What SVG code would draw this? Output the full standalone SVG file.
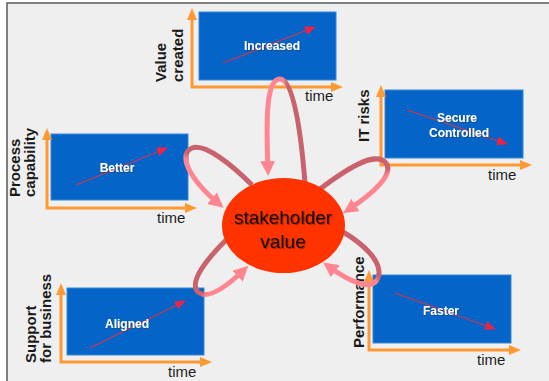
<svg xmlns="http://www.w3.org/2000/svg" width="549" height="381" viewBox="0 0 549 381">
  <style>
    .plot { fill: #0464c8; stroke: #3b88d6; stroke-width: 1; }
    .axis { fill: none; stroke: #ff9933; stroke-width: 3; stroke-linejoin: miter; marker-start: url(#axHead); marker-end: url(#axHead); }
    .trend { fill: none; stroke: #d2344e; stroke-width: 1.2; marker-end: url(#trendHead); }
    .inner { font-family: "Liberation Sans", Arial, sans-serif; font-weight: bold; font-size: 12px; fill: #ffffff; text-anchor: middle; filter: url(#softShadow); }
    .ylab { font-family: "Liberation Sans", Arial, sans-serif; font-weight: bold; font-size: 15px; fill: #1a1a1a; }
    .tlab { font-family: "Liberation Sans", Arial, sans-serif; font-size: 15px; fill: #1e1e1e; }
    .loop { fill: none; stroke-width: 5; stroke-linecap: butt; marker-end: url(#loopHead); }
    .core { font-family: "Liberation Sans", Arial, sans-serif; font-size: 19px; fill: #111111; text-anchor: middle; filter: url(#coreShadow); }
  </style>
  <defs>
    <marker id="axHead" markerUnits="userSpaceOnUse" markerWidth="12" markerHeight="10" viewBox="0 0 12 10" refX="6" refY="5" orient="auto-start-reverse">
      <path d="M0,0 L12,5 L0,10 z" fill="#ff9933"/>
    </marker>
    <marker id="trendHead" markerUnits="userSpaceOnUse" markerWidth="11" markerHeight="9" viewBox="0 0 11 9" refX="10" refY="4.5" orient="auto">
      <path d="M0,0 L11,4.5 L0,9 z" fill="#ee2244"/>
    </marker>
    <marker id="loopHead" markerUnits="userSpaceOnUse" markerWidth="15" markerHeight="15" viewBox="0 0 15 15" refX="9" refY="7.5" orient="auto">
      <path d="M0,0 L15,7.5 L0,15 z" fill="#ff8690"/>
    </marker>
    <filter id="softShadow" x="-10%" y="-20%" width="120%" height="150%">
      <feDropShadow dx="0.8" dy="0.8" stdDeviation="0.4" flood-color="#333333" flood-opacity="0.6"/>
    </filter>
    <filter id="coreShadow" x="-10%" y="-20%" width="120%" height="150%">
      <feDropShadow dx="1" dy="1" stdDeviation="0.5" flood-color="#6a1400" flood-opacity="0.6"/>
    </filter>
    <!-- each loop shades from deep rose (outgoing) to light pink (returning) -->
    <linearGradient id="g1" gradientUnits="userSpaceOnUse" x1="300" y1="0" x2="272" y2="0">
      <stop offset="0" stop-color="#c9626c"/><stop offset="0.45" stop-color="#c9626c"/><stop offset="0.6" stop-color="#ff8690"/><stop offset="1" stop-color="#ff8690"/>
    </linearGradient>
    <linearGradient id="g2" gradientUnits="userSpaceOnUse" x1="222" y1="156" x2="204" y2="186">
      <stop offset="0" stop-color="#c9626c"/><stop offset="0.45" stop-color="#c9626c"/><stop offset="0.6" stop-color="#ff8690"/><stop offset="1" stop-color="#ff8690"/>
    </linearGradient>
    <linearGradient id="g3" gradientUnits="userSpaceOnUse" x1="352" y1="165" x2="366" y2="200">
      <stop offset="0" stop-color="#c9626c"/><stop offset="0.45" stop-color="#c9626c"/><stop offset="0.6" stop-color="#ff8690"/><stop offset="1" stop-color="#ff8690"/>
    </linearGradient>
    <linearGradient id="g4" gradientUnits="userSpaceOnUse" x1="204" y1="262" x2="232" y2="280">
      <stop offset="0" stop-color="#c9626c"/><stop offset="0.45" stop-color="#c9626c"/><stop offset="0.6" stop-color="#ff8690"/><stop offset="1" stop-color="#ff8690"/>
    </linearGradient>
    <linearGradient id="g5" gradientUnits="userSpaceOnUse" x1="368" y1="248" x2="346" y2="274">
      <stop offset="0" stop-color="#c9626c"/><stop offset="0.45" stop-color="#c9626c"/><stop offset="0.6" stop-color="#ff8690"/><stop offset="1" stop-color="#ff8690"/>
    </linearGradient>
  </defs>

  <!-- page and frame -->
  <rect x="0" y="0" width="549" height="381" fill="#ffffff"/>
  <rect x="7" y="3" width="542" height="378" fill="#efefef"/>
  <path d="M7,381 L7,3 L549,3" fill="none" stroke="#5a5a5a" stroke-width="1.5"/>

  <!-- Value created -->
  <g id="value-created">
    <rect class="plot" x="199" y="12" width="137" height="68"/>
    <polyline class="axis" points="192,14 192,87 337,87"/>
    <line class="trend" x1="223" y1="63" x2="315" y2="27"/>
    <text class="inner" x="272" y="50">Increased</text>
    <text class="ylab" transform="translate(166,82) rotate(-90)">Value</text>
    <text class="ylab" transform="translate(183,82) rotate(-90)">created</text>
    <text class="tlab" x="305" y="101">time</text>
  </g>

  <!-- Process capability -->
  <g id="process-capability">
    <rect class="plot" x="51" y="134" width="137" height="66"/>
    <polyline class="axis" points="47,134 47,208 191,208"/>
    <line class="trend" x1="76" y1="185" x2="167" y2="148"/>
    <text class="inner" x="117" y="172">Better</text>
    <text class="ylab" transform="translate(20,197) rotate(-90)">Process</text>
    <text class="ylab" transform="translate(35,197) rotate(-90)">capability</text>
    <text class="tlab" x="157" y="223">time</text>
  </g>

  <!-- IT risks -->
  <g id="it-risks">
    <rect class="plot" x="385" y="90" width="138" height="68"/>
    <polyline class="axis" points="381,91 381,165 526,165"/>
    <line class="trend" x1="407" y1="110" x2="507" y2="144"/>
    <text class="inner" x="457" y="122">Secure</text>
    <text class="inner" x="459" y="137">Controlled</text>
    <text class="ylab" transform="translate(369,142) rotate(-90)">IT risks</text>
    <text class="tlab" x="488" y="180">time</text>
  </g>

  <!-- Support for business -->
  <g id="support-for-business">
    <rect class="plot" x="67" y="288" width="137" height="67"/>
    <polyline class="axis" points="61,289 61,362 206,362"/>
    <line class="trend" x1="90" y1="348" x2="185" y2="301"/>
    <text class="inner" x="127" y="328">Aligned</text>
    <text class="ylab" transform="translate(36,363) rotate(-90)">Support</text>
    <text class="ylab" transform="translate(51,363) rotate(-90)">for business</text>
    <text class="tlab" x="168" y="377">time</text>
  </g>

  <!-- Performance -->
  <g id="performance">
    <rect class="plot" x="373" y="275" width="138" height="68"/>
    <polyline class="axis" points="369,276 369,350 515,350"/>
    <line class="trend" x1="395" y1="293" x2="495" y2="329"/>
    <text class="inner" x="441" y="315">Faster</text>
    <text class="ylab" transform="translate(364,348) rotate(-90)">Performance</text>
    <text class="tlab" x="477" y="365">time</text>
  </g>

  <!-- feedback loops into the centre -->
  <g id="connectors">
    <path class="loop" stroke="url(#g1)" d="M305,183 C300,120 292,79 280,79 C266,79 266,120 268,170"/>
    <path class="loop" stroke="url(#g2)" d="M252,185 C232,165 205,143 192,148 C178,154 188,178 219,204"/>
    <path class="loop" stroke="url(#g3)" d="M320,189 C345,170 375,150 386,163 C394,174 375,192 348,210"/>
    <path class="loop" stroke="url(#g4)" d="M226,240 C208,258 188,282 198,292 C207,300 225,288 244,270"/>
    <path class="loop" stroke="url(#g5)" d="M343,232 C362,243 384,262 378,278 C372,292 350,282 328,266"/>
  </g>

  <!-- stakeholder value -->
  <g id="stakeholder-value">
    <ellipse cx="283.5" cy="225.5" rx="61.5" ry="47.5" fill="#ff3300"/>
    <text class="core" x="283" y="224">stakeholder</text>
    <text class="core" x="283" y="248">value</text>
  </g>
</svg>
